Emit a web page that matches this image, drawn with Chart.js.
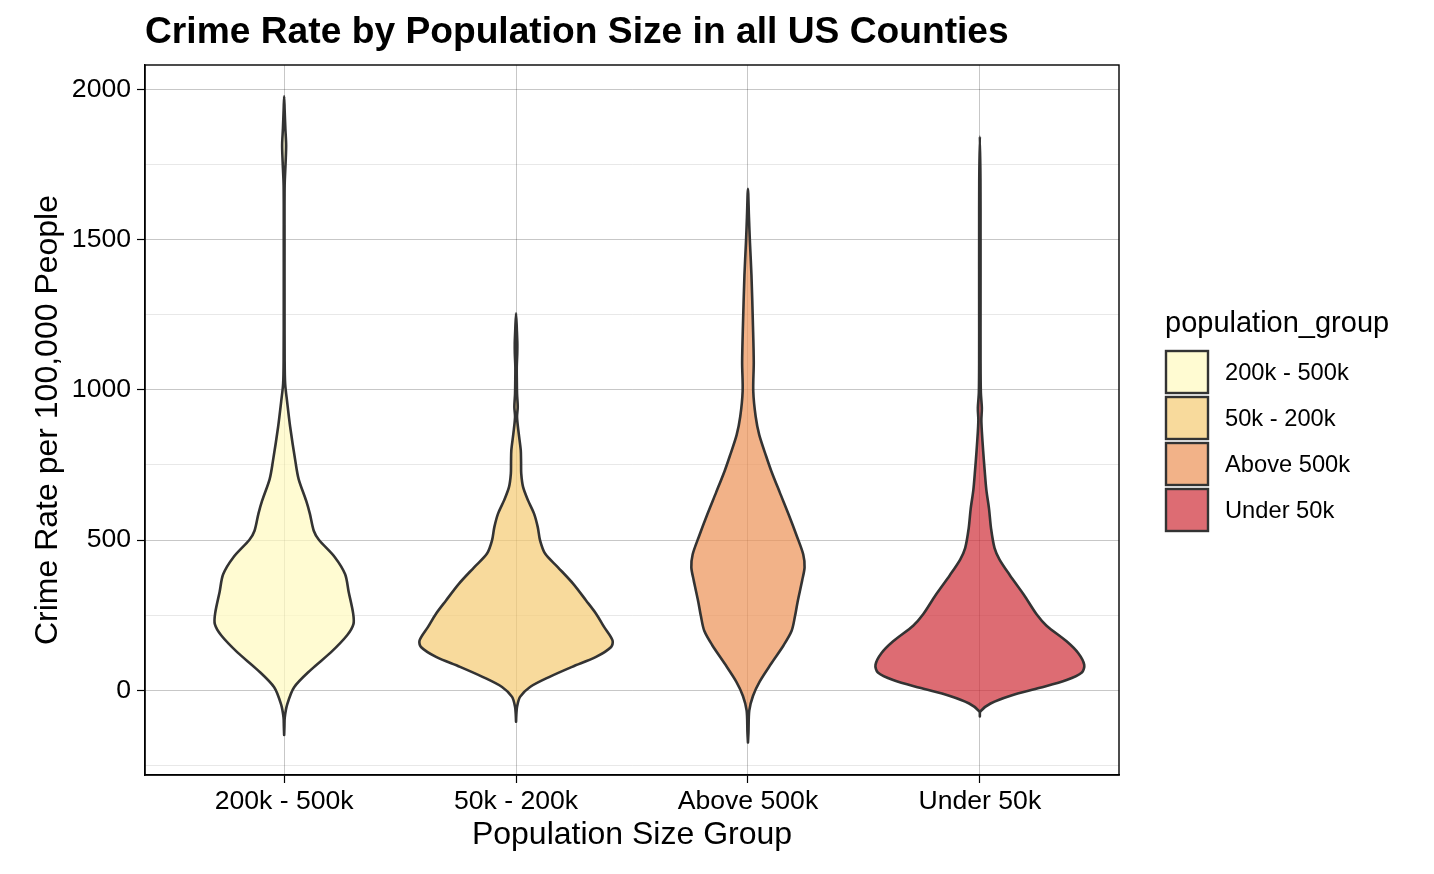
<!DOCTYPE html>
<html>
<head>
<meta charset="utf-8">
<script src="https://cdn.jsdelivr.net/npm/chart.js@4.4.1/dist/chart.umd.min.js"></script>
<style>
  html, body { margin: 0; padding: 0; background: #ffffff; }
  canvas { display: block; }
</style>
</head>
<body>
<canvas id="chart" width="1434" height="874"></canvas>
<script>
// ---- Data ----
const categories = ['200k - 500k', '50k - 200k', 'Above 500k', 'Under 50k'];
const yTickValues = [-250, 0, 250, 500, 750, 1000, 1250, 1500, 1750, 2000];
const yLabelValues = [0, 500, 1000, 1500, 2000];

// Violin outlines: crime-rate levels and half-widths (in x-axis category units)
const rate200to500k  = [-149, -120, -91, -48, 10, 68, 126, 183, 220, 256, 328, 386, 443, 501, 530, 588, 631, 703, 761, 877, 960, 1021, 1100, 1300, 1500, 1680, 1760, 1815, 1870, 1930, 1977];
const width200to500k = [0, 0.0013, 0.0026, 0.0129, 0.0431, 0.1151, 0.2014, 0.2717, 0.2988, 0.2975, 0.2781, 0.2630, 0.2186, 0.1496, 0.1281, 0.1108, 0.0949, 0.0625, 0.0487, 0.0259, 0.0129, 0.0043, 0.0022, 0.0017, 0.0017, 0.0022, 0.0065, 0.0086, 0.0052, 0.0022, 0];

const rate50to200k  = [-105, -80, -55, -22, 11, 44, 78, 111, 144, 166, 211, 255, 299, 355, 410, 455, 499, 543, 588, 632, 677, 721, 760, 799, 854, 909, 943, 987, 1030, 1076, 1120, 1153, 1200, 1255];
const width50to200k = [0, 0.0013, 0.0043, 0.0172, 0.0604, 0.1423, 0.2415, 0.3450, 0.4100, 0.4160, 0.3795, 0.3450, 0.3019, 0.2458, 0.1798, 0.1251, 0.1035, 0.0936, 0.0776, 0.0517, 0.0302, 0.0224, 0.0216, 0.0203, 0.0116, 0.0043, 0.0073, 0.0043, 0.0034, 0.0030, 0.0052, 0.0056, 0.0034, 0];

const rateAbove500k  = [-174, -140, -68, -19, 29, 89, 150, 198, 246, 295, 367, 409, 452, 512, 585, 657, 730, 778, 850, 911, 995, 1092, 1213, 1382, 1490, 1575, 1669];
const widthAbove500k = [0, 0.0022, 0.0056, 0.0216, 0.0505, 0.1005, 0.1539, 0.1884, 0.2027, 0.2143, 0.2342, 0.2441, 0.2385, 0.2113, 0.1755, 0.1380, 0.1005, 0.0789, 0.0487, 0.0332, 0.0229, 0.0250, 0.0216, 0.0151, 0.0086, 0.0043, 0];

const rateUnder50k  = [-87, -70, -44, -18, 8, 34, 59, 85, 124, 163, 215, 253, 318, 383, 435, 473, 538, 603, 667, 732, 797, 861, 900, 939, 991, 1100, 1300, 1500, 1700, 1843];
const widthUnder50k = [0, 0.0022, 0.0461, 0.1324, 0.2587, 0.3739, 0.4398, 0.4500, 0.4239, 0.3739, 0.2876, 0.2445, 0.1897, 0.1294, 0.0849, 0.0634, 0.0483, 0.0397, 0.0280, 0.0207, 0.0142, 0.0086, 0.0065, 0.0086, 0.0043, 0.0030, 0.0030, 0.0030, 0.0026, 0];

const groupRates  = [rate200to500k, rate50to200k, rateAbove500k, rateUnder50k];
const groupWidths = [width200to500k, width50to200k, widthAbove500k, widthUnder50k];
const groupColors = ['rgba(255,250,191,0.7)', 'rgba(245,202,114,0.7)', 'rgba(236,146,85,0.7)', 'rgba(207,45,55,0.7)'];

// ---- Styles ----
const FONT = '"Liberation Sans", Arial, Helvetica, sans-serif';
const OUTLINE = '#333333';

// Build closed violin outlines from the arrays
const datasets = categories.map((name, i) => {
  const ys = groupRates[i], ws = groupWidths[i], c = i + 1;
  const pts = [];
  for (let k = 0; k < ys.length; k++) pts.push({ x: c - ws[k], y: ys[k] });
  for (let k = ys.length - 2; k >= 0; k--) pts.push({ x: c + ws[k], y: ys[k] });
  return {
    label: name,
    data: pts,
    showLine: true,
    fill: 'shape',
    backgroundColor: groupColors[i],
    borderColor: OUTLINE,
    borderWidth: 2.6,
    borderJoinStyle: 'round',
    borderCapStyle: 'round',
    pointRadius: 0,
    pointHoverRadius: 0,
    tension: 0.3
  };
});

const decorPlugin = {
  id: 'decor',
  afterDraw(chart) {
    const ctx = chart.ctx;
    const a = chart.chartArea;
    ctx.save();
    // panel border
    ctx.strokeStyle = '#000000';
    ctx.lineWidth = 1.4;
    ctx.strokeRect(a.left, a.top, a.right - a.left, a.bottom - a.top);

    ctx.fillStyle = '#000000';
    // title
    ctx.font = 'bold 37.2px ' + FONT;
    ctx.textAlign = 'left';
    ctx.textBaseline = 'alphabetic';
    ctx.fillText('Crime Rate by Population Size in all US Counties', 145, 43);

    // x-axis title
    ctx.font = '32px ' + FONT;
    ctx.textAlign = 'center';
    ctx.textBaseline = 'middle';
    ctx.fillText('Population Size Group', (a.left + a.right) / 2, 835);

    // y-axis title
    ctx.save();
    ctx.translate(48, (a.top + a.bottom) / 2);
    ctx.rotate(-Math.PI / 2);
    ctx.fillText('Crime Rate per 100,000 People', 0, 0);
    ctx.restore();

    // legend
    ctx.textAlign = 'left';
    ctx.textBaseline = 'alphabetic';
    ctx.font = '29px ' + FONT;
    ctx.fillText('population_group', 1165, 332);
    ctx.font = '23.7px ' + FONT;
    categories.forEach((name, i) => {
      const y = 351 + i * 46;
      ctx.fillStyle = '#ffffff';
      ctx.fillRect(1166, y, 42, 42);
      ctx.fillStyle = groupColors[i];
      ctx.fillRect(1166, y, 42, 42);
      ctx.strokeStyle = OUTLINE;
      ctx.lineWidth = 2.4;
      ctx.strokeRect(1166, y, 42, 42);
      ctx.fillStyle = '#000000';
      ctx.textBaseline = 'middle';
      ctx.fillText(name, 1225, y + 22);
    });
    ctx.restore();
  }
};

new Chart(document.getElementById('chart'), {
  type: 'scatter',
  data: { datasets },
  options: {
    responsive: false,
    animation: false,
    devicePixelRatio: 1,
    layout: { padding: { left: 0, top: 65, right: 315, bottom: 0 } },
    plugins: {
      legend: { display: false },
      tooltip: { enabled: false },
      title: { display: false }
    },
    scales: {
      x: {
        type: 'linear',
        min: 0.4,
        max: 4.6,
        afterBuildTicks(scale) { scale.ticks = categories.map((_, i) => ({ value: i + 1 })); },
        afterFit(scale) { scale.height = 99; },
        ticks: {
          callback: (v) => categories[Math.round(v) - 1] || '',
          color: '#000000',
          font: { family: FONT, size: 26.6 },
          padding: 3,
          maxRotation: 0,
          autoSkip: false
        },
        grid: {
          color: 'rgba(0,0,0,0.22)',
          lineWidth: 1,
          tickColor: '#000000',
          tickLength: 8,
          tickWidth: 1.2
        },
        border: { display: true, color: '#000000', width: 1.4 }
      },
      y: {
        type: 'linear',
        min: -282,
        max: 2081,
        afterBuildTicks(scale) { scale.ticks = yTickValues.map(v => ({ value: v })); },
        afterFit(scale) { scale.width = 145; },
        ticks: {
          callback: (v) => yLabelValues.includes(v) ? String(v) : '',
          color: '#000000',
          font: { family: FONT, size: 26.6 },
          padding: 6,
          autoSkip: false
        },
        grid: {
          color: (c) => yLabelValues.includes(c.tick && c.tick.value) ? 'rgba(0,0,0,0.22)' : 'rgba(0,0,0,0.09)',
          lineWidth: 1,
          tickColor: (c) => yLabelValues.includes(c.tick && c.tick.value) ? '#000000' : 'rgba(0,0,0,0)',
          tickLength: 8,
          tickWidth: 1.2
        },
        border: { display: true, color: '#000000', width: 1.4 }
      }
    }
  },
  plugins: [decorPlugin]
});
</script>
</body>
</html>
